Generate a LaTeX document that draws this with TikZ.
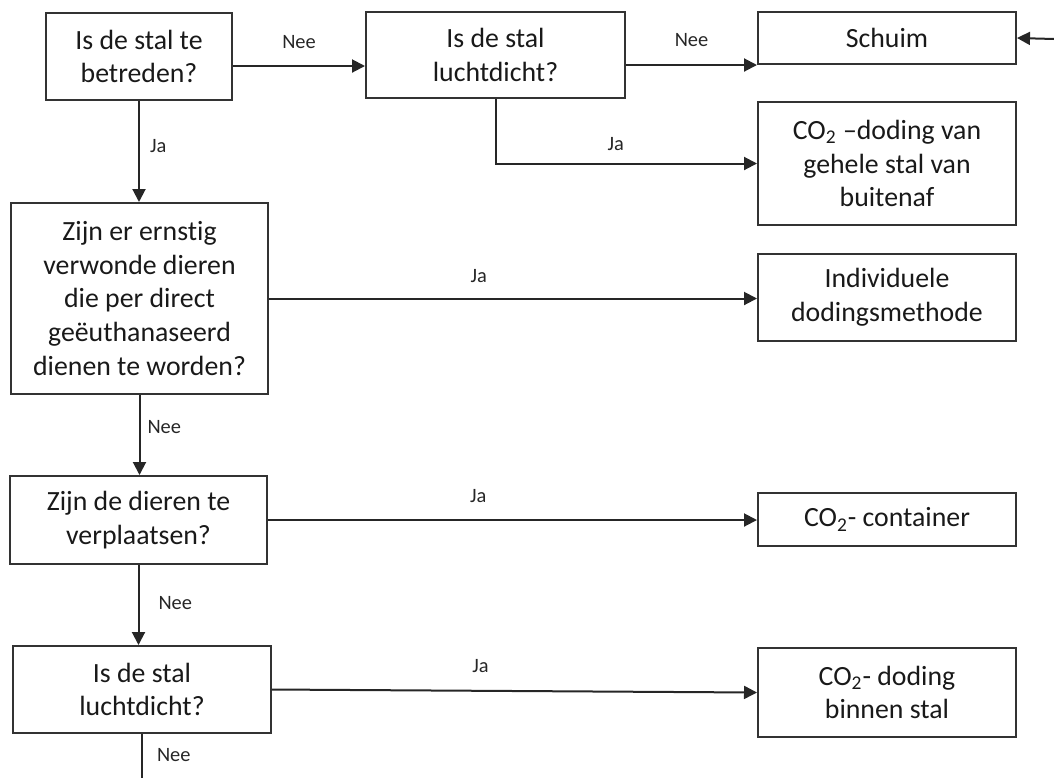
\documentclass[tikz,border=0pt]{standalone}
\usepackage{fontspec}
\setmainfont{Carlito}[Ligatures=NoCommon]
\usetikzlibrary{arrows.meta,calc}
\begin{document}
\begin{tikzpicture}[x=0.5pt,y=-0.5pt,
  box/.style={draw=black!80, line width=1pt, align=center, inner sep=2pt,
    font=\fontsize{13.9}{16.9}\selectfont, text=black!90},
  arr/.style={draw=black!85, line width=1pt, -{Triangle[length=6.5pt,width=6.5pt]}},
  ln/.style={draw=black!85, line width=1pt},
  lbl/.style={font=\fontsize{10.2}{12}\selectfont, inner sep=0pt, text=black!85}]
\useasboundingbox (0,0) rectangle (1054,778);

\node[box, minimum width=93pt, minimum height=43.5pt] (b1) at (139,56.5) {Is de stal te\\betreden?};
\node[box, minimum width=129.5pt, minimum height=43pt] (b2) at (495.5,55) {Is de stal\\luchtdicht?};
\node[box, minimum width=129pt, minimum height=26pt] (schuim) at (887,38) {Schuim};
\node[box, minimum width=129pt, minimum height=61.5pt] (gehele) at (887,163.5) {CO\textsubscript{2} –doding van\\gehele stal van\\buitenaf};
\node[box, minimum width=128.5pt, minimum height=95.5pt] (b3) at (139.5,298.5) {Zijn er ernstig\\verwonde dieren\\die per direct\\geëuthanaseerd\\dienen te worden?};
\node[box, minimum width=129pt, minimum height=43.5pt] (indiv) at (887,297.5) {Individuele\\dodingsmethode};
\node[box, minimum width=128.5pt, minimum height=44pt] (b4) at (138.5,520) {Zijn de dieren te\\verplaatsen?};
\node[box, minimum width=129pt, minimum height=26.5pt] (cont) at (887,519.5) {CO\textsubscript{2}- container};
\node[box, minimum width=129pt, minimum height=43.5pt] (b5) at (142,689.5) {Is de stal\\luchtdicht?};
\node[box, minimum width=129pt, minimum height=44.5pt] (binnen) at (887,692.5) {CO\textsubscript{2}- doding\\binnen stal};

\coordinate (rin) at (1054,39);
\coordinate (bend) at (142,778);

\draw[arr] ([yshift=-4.75pt]b1.east) -- ([yshift=-4.75pt]b1.east -| b2.west)
  node[lbl, midway, above=8pt] {Nee};
\draw[arr] ([yshift=-5pt]b2.east) -- (schuim.south west)
  node[lbl, midway, above=8.5pt] {Nee};
\draw[arr] (b2.south) |- (gehele.west)
  node[lbl, pos=0.73, above=6pt] {Ja};
\draw[arr] (rin) -- (schuim.east);

\draw[arr] (b1.south) -- (b1.south |- b3.north)
  node[lbl, pos=0.45, right=5pt] {Ja};
\draw[arr] (b3.east) -- (b3.east -| indiv.west)
  node[lbl, pos=0.43, above=7.5pt] {Ja};
\draw[arr] (b3.south) -- (b3.south |- b4.north)
  node[lbl, pos=0.4, right=3.5pt] {Nee};
\draw[arr] (b4.east) -- (b4.east -| cont.west)
  node[lbl, pos=0.43, above=8pt] {Ja};
\draw[arr] (b4.south) -- (b4.south |- b5.north)
  node[lbl, pos=0.48, right=9.5pt] {Nee};
\draw[arr] (b5.east) -- (binnen.west)
  node[lbl, pos=0.43, above=8.5pt] {Ja};
\draw[ln] (b5.south) -- (bend)
  node[lbl, pos=0.47, right=7pt] {Nee};
\end{tikzpicture}
\end{document}
